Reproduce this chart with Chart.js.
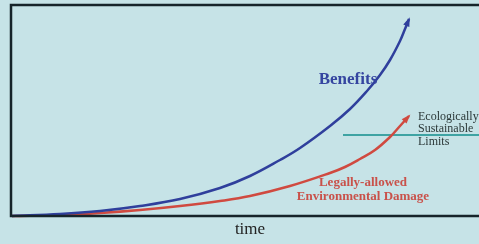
<!DOCTYPE html>
<html>
<head>
<meta charset="utf-8">
<script src="https://cdn.jsdelivr.net/npm/chart.js@4/dist/chart.umd.min.js"></script>
<style>
  html, body { margin: 0; padding: 0; background: #c6e3e7; }
  #wrap { width: 479px; height: 244px; }
</style>
</head>
<body>
<div id="wrap"><canvas id="chart" width="479" height="244"></canvas></div>
<script>
// time on x, magnitude on y (arbitrary units)
const benefitsX = [1, 49, 89, 129, 169, 209, 239, 269, 289, 319, 339, 356, 369, 379, 389, 394, 398];
const benefitsY = [0, 2, 5, 10, 17, 28, 40, 56, 68, 90, 107, 125, 141, 156, 175, 187, 197];
const damageX = [1, 49, 89, 129, 169, 209, 239, 279, 319, 334, 349, 364, 379, 389, 398];
const damageY = [0, 1, 3, 6, 10, 15, 20, 30, 43, 49, 57, 66, 79, 90, 100];
const limitX = [332, 468];
const limitY = [81, 81];

const toPts = (xs, ys) => xs.map((x, i) => ({ x, y: ys[i] }));

const blue = "#2f3f9c";
const red = "#d04a40";
const teal = "#3ea3a3";

const framePlugin = {
  id: "frame",
  afterDatasetsDraw(chart) {
    const { ctx, chartArea: a, scales } = chart;
    ctx.save();

    // frame: left, top, bottom
    ctx.strokeStyle = "#16242a";
    ctx.lineWidth = 2.5;
    ctx.beginPath();
    ctx.moveTo(chart.width, a.top);
    ctx.lineTo(a.left, a.top);
    ctx.lineTo(a.left, a.bottom);
    ctx.lineTo(chart.width, a.bottom);
    ctx.stroke();

    // arrowheads at the end of each curve
    [0, 1].forEach((i) => {
      const pts = chart.getDatasetMeta(i).data;
      const p = pts[pts.length - 1];
      const q = pts[pts.length - 2];
      const ang = Math.atan2(p.y - q.y, p.x - q.x);
      const len = 8;
      ctx.fillStyle = chart.data.datasets[i].borderColor;
      ctx.beginPath();
      ctx.moveTo(p.x + Math.cos(ang) * 2, p.y + Math.sin(ang) * 2);
      ctx.lineTo(p.x - Math.cos(ang - 0.42) * len, p.y - Math.sin(ang - 0.42) * len);
      ctx.lineTo(p.x - Math.cos(ang + 0.42) * len, p.y - Math.sin(ang + 0.42) * len);
      ctx.closePath();
      ctx.fill();
    });

    const px = (v) => scales.x.getPixelForValue(v);
    const py = (v) => scales.y.getPixelForValue(v);

    ctx.textBaseline = "middle";
    ctx.textAlign = "center";

    ctx.fillStyle = "#3545a0";
    ctx.font = "bold 17px 'Liberation Serif', serif";
    ctx.fillText("Benefits", px(337), py(136));

    ctx.fillStyle = "#c9514a";
    ctx.font = "bold 13px 'Liberation Serif', serif";
    ctx.fillText("Legally-allowed", px(352), py(33));
    ctx.fillText("Environmental Damage", px(352), py(19));

    ctx.fillStyle = "#2b3838";
    ctx.font = "12px 'Liberation Serif', serif";
    ctx.textAlign = "left";
    ctx.fillText("Ecologically", px(407), py(99));
    ctx.fillText("Sustainable", px(407), py(87));
    ctx.fillText("Limits", px(407), py(74));

    ctx.fillStyle = "#222";
    ctx.font = "17px 'Liberation Serif', serif";
    ctx.textAlign = "center";
    ctx.fillText("time", px(239), a.bottom + 14);

    ctx.restore();
  },
};

new Chart(document.getElementById("chart"), {
  type: "line",
  data: {
    datasets: [
      {
        label: "Benefits",
        data: toPts(benefitsX, benefitsY),
        borderColor: blue,
        borderWidth: 2.5,
        pointRadius: 0,
        tension: 0.4,
      },
      {
        label: "Legally-allowed Environmental Damage",
        data: toPts(damageX, damageY),
        borderColor: red,
        borderWidth: 2.5,
        pointRadius: 0,
        tension: 0.4,
      },
      {
        label: "Ecologically Sustainable Limits",
        data: toPts(limitX, limitY),
        borderColor: teal,
        borderWidth: 2,
        pointRadius: 0,
      },
    ],
  },
  options: {
    responsive: false,
    animation: false,
    clip: false,
    layout: { padding: { left: 11, top: 5, right: 0, bottom: 28 } },
    plugins: { legend: { display: false }, tooltip: { enabled: false } },
    scales: {
      x: { type: "linear", min: 0, max: 468, display: false },
      y: { type: "linear", min: 0, max: 211, display: false },
    },
  },
  plugins: [framePlugin],
});
</script>
</body>
</html>
